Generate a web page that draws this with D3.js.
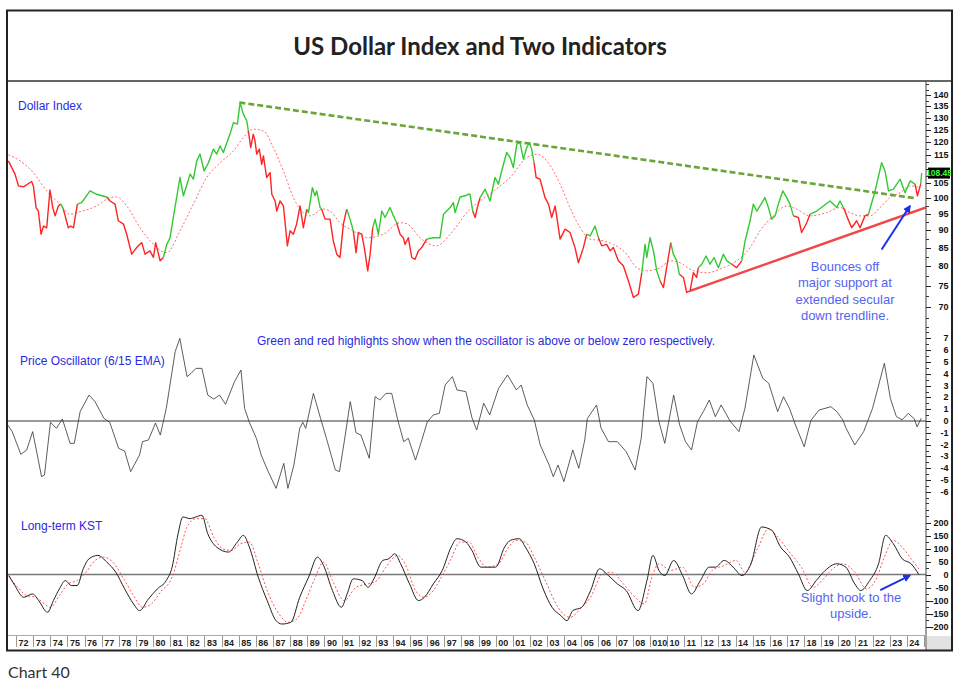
<!DOCTYPE html>
<html>
<head>
<meta charset="utf-8">
<script src="https://cdn.jsdelivr.net/npm/d3@7"></script>
<style>
body { margin: 0; background: #fff; }
svg { display: block; font-family: Arial, "Liberation Sans", sans-serif; }
</style>
</head>
<body>
<div id="chart"></div>
<script>
// Dollar index, [year, value]
var dollarIndex = [
[1971.55,112.9],[1971.94,108.1],[1972.14,104.0],[1972.43,103.7],[1972.91,105.5],[1973.01,104.0],[1973.17,96.9],[1973.30,95.8],[1973.46,88.8],[1973.60,91.2],[1973.79,90.7],[1973.98,102.6],[1974.14,96.9],[1974.28,94.3],[1974.47,97.4],[1974.61,98.0],[1974.76,96.4],[1975.05,90.7],[1975.19,91.2],[1975.35,90.7],[1975.58,98.0],[1975.83,98.5],[1976.32,102.3],[1976.71,101.2],[1977.29,100.3],[1977.49,99.0],[1977.78,98.0],[1977.97,92.8],[1978.27,91.8],[1978.46,88.8],[1978.75,83.2],[1979.04,85.0],[1979.34,86.4],[1979.53,83.2],[1979.82,84.1],[1980.02,82.3],[1980.15,86.4],[1980.41,81.4],[1980.60,82.3],[1980.80,85.9],[1980.99,87.8],[1981.18,93.8],[1981.57,106.9],[1981.77,100.7],[1982.16,108.1],[1982.35,106.3],[1982.55,112.9],[1982.74,115.4],[1982.98,109.2],[1983.23,112.2],[1983.52,117.3],[1983.71,115.4],[1983.91,118.5],[1984.10,116.0],[1984.49,123.2],[1984.69,127.9],[1984.92,127.3],[1985.08,136.6],[1985.27,131.5],[1985.47,128.6],[1985.56,124.5],[1985.70,117.9],[1985.85,123.2],[1985.95,120.5],[1986.05,115.4],[1986.20,117.3],[1986.34,111.6],[1986.44,114.7],[1986.63,106.9],[1986.83,108.6],[1986.93,101.2],[1987.12,99.0],[1987.22,95.8],[1987.41,99.0],[1987.61,97.4],[1987.84,85.5],[1988.00,89.8],[1988.19,88.8],[1988.38,91.8],[1988.58,97.4],[1988.77,90.7],[1988.97,96.4],[1989.07,95.3],[1989.30,103.4],[1989.45,100.7],[1989.55,102.3],[1989.75,96.9],[1989.84,96.4],[1990.04,93.3],[1990.33,93.3],[1990.52,86.9],[1990.72,83.2],[1990.91,82.3],[1991.11,91.8],[1991.30,96.4],[1991.50,93.3],[1991.69,89.8],[1991.85,83.6],[1991.98,89.3],[1992.18,88.8],[1992.33,85.0],[1992.53,78.8],[1992.67,83.2],[1992.82,90.7],[1992.96,93.3],[1993.15,88.8],[1993.35,95.8],[1993.54,93.8],[1993.83,96.9],[1994.03,94.3],[1994.22,92.2],[1994.42,88.8],[1994.61,87.8],[1994.71,85.9],[1994.90,87.8],[1995.10,82.3],[1995.29,81.8],[1995.49,84.1],[1995.68,85.0],[1995.97,87.4],[1996.36,87.8],[1996.75,87.8],[1996.95,94.8],[1997.14,95.8],[1997.34,96.9],[1997.53,98.5],[1997.63,95.3],[1997.92,100.3],[1998.21,100.7],[1998.41,101.2],[1998.50,101.2],[1998.66,95.8],[1998.80,93.8],[1998.93,96.9],[1999.09,100.1],[1999.38,102.9],[1999.67,99.0],[1999.96,106.9],[2000.16,104.6],[2000.35,109.2],[2000.64,116.0],[2000.84,114.1],[2001.03,110.4],[2001.23,119.2],[2001.42,119.8],[2001.62,113.5],[2001.81,117.9],[2001.97,119.8],[2002.10,117.3],[2002.24,112.2],[2002.36,106.9],[2002.59,106.3],[2002.88,100.1],[2003.08,98.0],[2003.27,93.8],[2003.47,97.4],[2003.76,87.4],[2004.05,90.3],[2004.34,89.3],[2004.63,85.0],[2004.83,80.9],[2005.12,85.0],[2005.31,88.8],[2005.51,88.3],[2005.80,91.2],[2006.00,87.8],[2006.19,85.5],[2006.48,85.9],[2006.68,84.1],[2006.87,85.0],[2007.16,81.4],[2007.45,80.1],[2007.75,76.2],[2008.04,72.2],[2008.33,73.0],[2008.53,78.3],[2008.72,85.9],[2008.82,82.3],[2009.01,87.8],[2009.21,84.1],[2009.40,78.8],[2009.60,76.2],[2009.79,74.6],[2009.98,79.6],[2010.22,86.4],[2010.37,83.2],[2010.57,81.4],[2010.72,77.9],[2010.96,77.1],[2011.15,73.4],[2011.35,73.8],[2011.54,78.3],[2011.73,77.1],[2011.83,79.6],[2012.03,80.5],[2012.28,82.7],[2012.51,80.5],[2012.75,82.3],[2013.00,79.6],[2013.29,83.2],[2013.49,81.4],[2013.78,80.5],[2014.07,79.6],[2014.36,81.4],[2014.56,86.9],[2014.85,92.8],[2015.04,98.0],[2015.24,95.8],[2015.43,97.4],[2015.72,100.1],[2015.92,96.9],[2016.11,93.3],[2016.31,94.3],[2016.50,98.0],[2016.76,102.3],[2016.99,100.1],[2017.18,98.0],[2017.38,94.3],[2017.67,93.8],[2017.86,89.3],[2018.16,92.2],[2018.35,94.8],[2018.74,95.8],[2019.13,97.4],[2019.52,99.0],[2019.91,96.9],[2020.10,99.0],[2020.30,96.9],[2020.49,94.3],[2020.78,90.7],[2021.07,92.8],[2021.27,90.7],[2021.56,94.3],[2021.76,94.8],[2022.15,102.3],[2022.53,112.2],[2022.73,109.2],[2022.93,102.3],[2023.22,102.9],[2023.61,106.3],[2023.90,101.7],[2024.19,105.7],[2024.48,104.6],[2024.62,100.7],[2024.81,104.6],[2024.87,108.45]
];
var lastClose = 108.45;

// Moving average (red dotted line on the price panel)
var movingAverage = [
[1971.55,115.1],[1972.23,112.9],[1973.01,108.6],[1973.79,102.3],[1974.57,98.0],[1975.15,94.8],[1975.74,95.6],[1976.71,97.4],[1977.49,100.1],[1977.88,100.3],[1978.46,97.4],[1979.24,90.7],[1980.02,85.9],[1980.80,83.6],[1981.57,89.8],[1982.35,98.0],[1983.13,106.9],[1983.91,112.2],[1984.69,116.6],[1985.27,121.8],[1985.85,125.2],[1986.44,124.5],[1987.02,117.9],[1987.61,109.2],[1988.19,100.1],[1988.58,96.4],[1989.16,94.3],[1989.94,96.4],[1990.33,95.8],[1990.91,92.2],[1991.69,89.8],[1992.47,87.8],[1993.44,88.8],[1994.42,92.2],[1994.81,91.9],[1995.58,87.8],[1996.17,85.9],[1996.56,85.5],[1997.34,88.8],[1998.50,96.4],[1999.09,99.0],[1999.87,102.3],[2000.84,106.9],[2001.81,114.1],[2002.39,115.4],[2002.98,112.9],[2003.76,104.6],[2004.34,96.9],[2004.93,90.7],[2005.51,87.4],[2006.29,86.9],[2006.87,85.9],[2007.65,83.2],[2008.23,79.6],[2008.82,78.8],[2009.60,79.6],[2010.18,81.4],[2010.76,80.9],[2011.54,78.8],[2012.32,78.3],[2013.29,79.6],[2014.07,81.4],[2014.85,85.0],[2015.43,89.8],[2016.21,94.3],[2016.99,97.4],[2017.57,96.4],[2018.35,94.3],[2019.32,95.3],[2020.10,96.9],[2020.68,95.3],[2021.27,94.3],[2021.85,94.3],[2022.44,96.9],[2023.02,100.1],[2023.61,101.7],[2024.19,104.0],[2024.77,103.4]
];

// Trend lines on the price panel
var resistanceLine = [[1985.04, 136.6], [2024.50, 99.9]];
var supportLine = [[2011.35, 73.8], [2025.12, 96.9]];

// Price oscillator (6/15 EMA)
var oscillator = [
[1971.51,-0.34],[1971.76,-0.85],[1972.28,-2.82],[1972.62,-2.46],[1972.97,-0.9],[1973.49,-4.72],[1973.66,-4.58],[1974.01,-0.11],[1974.36,-0.62],[1974.70,0.17],[1974.88,-0.62],[1975.15,-1.89],[1975.40,-1.89],[1975.74,0.79],[1976.26,2.2],[1976.61,1.64],[1977.13,0.23],[1977.47,-0.11],[1977.99,-2.32],[1978.34,-2.54],[1978.69,-4.29],[1979.21,-2.88],[1979.38,-1.75],[1979.73,-1.61],[1980.14,-0.17],[1980.42,-1.19],[1980.77,1.07],[1981.29,5.88],[1981.56,7.0],[1981.98,3.76],[1982.22,4.04],[1982.50,4.46],[1982.85,4.46],[1983.19,2.2],[1983.54,1.86],[1983.88,2.2],[1984.23,1.41],[1984.75,3.33],[1985.13,4.32],[1985.34,1.07],[1985.62,-0.11],[1986.03,-1.47],[1986.31,-2.88],[1986.72,-4.29],[1987.18,-5.71],[1987.63,-3.59],[1987.87,-5.71],[1988.22,-3.73],[1988.56,-0.62],[1988.74,-0.11],[1988.91,-0.62],[1989.36,2.34],[1989.78,0.2],[1990.12,-1.47],[1990.64,-4.15],[1990.88,-4.29],[1991.16,-1.75],[1991.51,1.64],[1991.85,-1.0],[1992.13,-1.19],[1992.62,-3.16],[1992.96,2.06],[1993.24,1.78],[1993.59,2.34],[1993.93,2.34],[1994.28,0.1],[1994.63,-1.75],[1994.90,-1.47],[1995.32,-3.31],[1995.66,-1.75],[1996.01,-0.06],[1996.36,0.51],[1996.71,0.65],[1997.05,3.05],[1997.47,3.76],[1997.74,2.63],[1998.26,2.49],[1998.61,0.3],[1998.89,-0.76],[1999.30,1.5],[1999.65,0.51],[2000.17,2.77],[2000.69,3.9],[2001.21,2.63],[2001.49,3.05],[2001.84,1.36],[2002.25,0.1],[2002.60,-2.03],[2003.12,-3.73],[2003.36,-4.72],[2003.64,-3.73],[2003.98,-5.14],[2004.50,-2.46],[2004.85,-4.01],[2005.20,-1.6],[2005.35,0.2],[2005.89,1.36],[2006.15,-0.6],[2006.58,-1.75],[2007.10,-1.75],[2007.62,-2.6],[2008.14,-4.15],[2008.49,-1.5],[2008.83,3.76],[2009.18,3.19],[2009.53,-0.06],[2009.87,-1.89],[2010.39,2.2],[2010.74,-0.34],[2011.08,-1.75],[2011.43,-2.46],[2011.78,-0.06],[2012.12,0.79],[2012.47,1.78],[2012.82,0.37],[2013.16,1.36],[2013.68,0.0],[2014.20,-0.9],[2014.55,1.07],[2015.07,5.59],[2015.59,3.62],[2015.94,3.19],[2016.46,0.79],[2016.80,2.06],[2017.15,1.07],[2017.50,-0.34],[2018.01,-2.18],[2018.40,0.05],[2018.88,0.93],[2019.57,1.21],[2019.92,0.79],[2020.26,0.1],[2020.45,-0.6],[2020.96,-2.03],[2021.48,-0.9],[2022.00,1.07],[2022.69,4.89],[2023.04,1.92],[2023.39,0.37],[2023.73,0.1],[2024.08,0.65],[2024.43,0.2],[2024.60,-0.5],[2024.84,0.23]
];

// Long-term KST and its signal line
var kst = [
[1971.58,-3.9],[1971.93,-42.5],[1972.45,-87.5],[1972.97,-74.6],[1973.32,-100.4],[1973.84,-145.4],[1974.18,-100.4],[1974.53,-55.3],[1974.88,-23.2],[1975.22,-42.5],[1975.57,-42.5],[1975.92,21.9],[1976.26,60.5],[1976.78,73.4],[1977.30,47.6],[1977.82,9.0],[1978.34,-55.3],[1978.86,-113.3],[1979.21,-139.0],[1979.73,-94.0],[1980.25,-55.3],[1980.77,-23.2],[1981.11,28.3],[1981.46,157.0],[1981.74,221.4],[1982.15,214.9],[1982.50,221.4],[1982.85,227.8],[1983.19,157.0],[1983.71,105.5],[1984.40,86.2],[1984.92,124.8],[1985.27,150.6],[1985.62,105.5],[1986.14,-10.3],[1986.66,-100.4],[1987.18,-177.6],[1987.52,-190.5],[1988.04,-184.0],[1988.56,-87.5],[1989.08,-10.3],[1989.60,66.9],[1989.95,34.7],[1990.47,-61.8],[1990.99,-126.1],[1991.33,-74.6],[1991.68,-16.7],[1992.20,-23.2],[1992.55,-48.9],[1992.89,-16.7],[1993.41,54.1],[1993.76,60.5],[1994.11,79.8],[1994.45,41.2],[1994.97,-36.0],[1995.49,-100.4],[1995.84,-87.5],[1996.36,-36.0],[1996.88,15.4],[1997.40,105.5],[1997.74,137.7],[1998.26,124.8],[1998.61,92.7],[1999.13,28.3],[1999.48,28.3],[2000.00,28.3],[2000.52,105.5],[2000.86,131.3],[2001.38,137.7],[2001.73,105.5],[2002.25,41.2],[2002.77,-55.3],[2003.29,-126.1],[2003.81,-158.3],[2004.16,-177.6],[2004.50,-139.0],[2005.02,-126.1],[2005.54,-61.8],[2006.06,21.9],[2006.58,-3.9],[2007.10,-36.0],[2007.62,-61.8],[2008.31,-139.0],[2008.83,-23.2],[2009.18,73.4],[2009.53,15.4],[2009.87,-3.9],[2010.39,54.1],[2010.91,-3.9],[2011.43,-74.6],[2011.95,-23.2],[2012.47,28.3],[2012.82,28.3],[2013.34,54.1],[2013.86,28.3],[2014.38,-3.9],[2014.90,41.2],[2015.52,182.8],[2016.11,169.9],[2016.63,105.5],[2017.15,66.9],[2017.67,2.6],[2018.19,-61.8],[2018.71,-23.2],[2019.23,15.4],[2019.92,41.2],[2020.44,28.3],[2020.96,-36.0],[2021.31,-61.8],[2021.83,-23.2],[2022.35,41.2],[2022.76,150.6],[2023.21,118.4],[2023.73,60.5],[2024.25,41.2],[2024.70,0]
];
var kstSignal = [
[1971.58,-7.7],[1972.10,-48.9],[1972.62,-81.1],[1973.14,-87.5],[1973.66,-113.3],[1974.01,-126.1],[1974.53,-81.1],[1975.05,-36.0],[1975.57,-23.2],[1976.09,9.0],[1976.61,54.1],[1977.13,66.9],[1977.65,47.6],[1978.34,-23.2],[1978.86,-81.1],[1979.38,-126.1],[1979.90,-113.3],[1980.42,-68.2],[1981.11,-10.3],[1981.63,105.5],[1981.98,182.8],[1982.50,214.9],[1983.02,214.9],[1983.54,144.1],[1984.06,99.1],[1984.58,92.7],[1985.10,118.4],[1985.62,124.8],[1986.14,41.2],[1986.66,-61.8],[1987.35,-151.9],[1987.87,-184.0],[1988.39,-171.2],[1988.91,-100.4],[1989.43,-16.7],[1989.95,47.6],[1990.47,-23.2],[1991.16,-100.4],[1991.85,-48.9],[1992.55,-36.0],[1993.07,-23.2],[1993.59,28.3],[1994.28,73.4],[1994.80,28.3],[1995.32,-61.8],[1995.84,-87.5],[1996.36,-61.8],[1996.88,-3.9],[1997.40,60.5],[1997.92,124.8],[1998.44,124.8],[1998.96,66.9],[1999.48,28.3],[2000.17,41.2],[2000.69,99.1],[2001.21,131.3],[2001.73,124.8],[2002.25,66.9],[2002.94,-29.6],[2003.64,-126.1],[2004.33,-164.7],[2005.02,-126.1],[2005.54,-87.5],[2006.23,2.6],[2006.75,9.0],[2007.45,-36.0],[2008.14,-87.5],[2008.66,-113.3],[2009.18,2.6],[2009.53,41.2],[2010.22,15.4],[2010.91,28.3],[2011.60,-48.9],[2012.12,-36.0],[2012.64,15.4],[2013.34,34.7],[2014.03,54.1],[2014.55,9.0],[2015.24,92.7],[2015.94,176.3],[2016.46,144.1],[2017.15,86.2],[2017.84,28.3],[2018.53,-48.9],[2019.05,-23.2],[2019.57,15.4],[2020.26,41.2],[2020.96,9.0],[2021.65,-55.3],[2022.17,-23.2],[2022.69,66.9],[2023.21,131.3],[2023.73,105.5],[2024.25,60.5],[2024.77,15.4]
];

// Axis labels
var yearLabels = ["72","73","74","75","76","77","78","79","80","81","82","83","84","85","86","87","88","89","90","91","92","93","94","95","96","97","98","99","00","01","02","03","04","05","06","07","08","010","10","11","12","13","14","15","16","17","18","19","20","21","22","23","24","25"];
var firstYear = 1972;
var priceTicks = [70, 75, 80, 85, 90, 95, 100, 105, 110, 115, 120, 125, 130, 135, 140];
var oscTicks = [-6, -5, -4, -3, -2, -1, 0, 1, 2, 3, 4, 5, 6, 7];
var kstTicks = [-200, -150, -100, -50, 0, 50, 100, 150, 200];

// Annotation arrows, in data units
var bounceArrow = [[2022.53, 84.5], [2024.18, 97.4]];
var hookArrow = [[2022.45, -60], [2024.17, -4]];

var width = 960, height = 695;
var left = 8, right = 926;

var x = d3.scaleLinear().domain([1971.53, 2025.12]).range([left, right]);
var yPrice = d3.scaleLog().domain([70, 140]).range([307, 95]);
var yOsc = d3.scaleLinear().domain([-6, 7]).range([491.8, 338.4]);
var yKst = d3.scaleLinear().domain([-200, 200]).range([626.5, 522.5]);

var svg = d3.select("#chart").append("svg")
    .attr("width", width)
    .attr("height", height);

var defs = svg.append("defs");
defs.append("clipPath").attr("id", "plotclip")
    .append("rect").attr("x", left).attr("y", 82).attr("width", right - left).attr("height", 552);
defs.append("clipPath").attr("id", "stripclip")
    .append("rect").attr("x", left).attr("y", 634).attr("width", right - left).attr("height", 17);
defs.append("marker")
    .attr("id", "arrow")
    .attr("viewBox", "0 0 10 10")
    .attr("refX", 8).attr("refY", 5)
    .attr("markerWidth", 4).attr("markerHeight", 4)
    .attr("orient", "auto")
    .append("path").attr("d", "M0,0 L10,5 L0,10 z").attr("fill", "#1f2fe6");

// Title
svg.append("text")
    .attr("x", 480).attr("y", 55)
    .attr("text-anchor", "middle")
    .style("font-family", "Lato, 'Open Sans', sans-serif")
    .style("font-weight", "700")
    .style("font-size", "24px")
    .attr("fill", "#222")
    .text("US Dollar Index and Two Indicators");

svg.append("line")
    .attr("x1", 7).attr("x2", 952).attr("y1", 81).attr("y2", 81)
    .attr("stroke", "#333").attr("stroke-width", 1.5);

var plot = svg.append("g").attr("clip-path", "url(#plotclip)");

// Price panel
var oscBisect = d3.bisector(function(d) { return d[0]; }).left;
function oscAt(t) {
    var i = oscBisect(oscillator, t);
    if (i <= 0) return oscillator[0][1];
    if (i >= oscillator.length) return oscillator[oscillator.length - 1][1];
    var a = oscillator[i - 1], b = oscillator[i];
    return a[1] + (b[1] - a[1]) * (t - a[0]) / (b[0] - a[0]);
}

var priceLine = d3.line()
    .x(function(d) { return x(d[0]); })
    .y(function(d) { return yPrice(d[1]); });

plot.append("path")
    .datum(movingAverage)
    .attr("d", priceLine.curve(d3.curveMonotoneX))
    .attr("fill", "none")
    .attr("stroke", "#ff6b6b")
    .attr("stroke-width", 1)
    .attr("stroke-dasharray", "2,2");
priceLine.curve(d3.curveLinear);

plot.append("path")
    .datum(resistanceLine)
    .attr("d", priceLine)
    .attr("stroke", "#6aa537")
    .attr("stroke-width", 2.6)
    .attr("stroke-dasharray", "6,3");

plot.append("path")
    .datum(supportLine)
    .attr("d", priceLine)
    .attr("stroke", "#f04848")
    .attr("stroke-width", 2.5);

// colour runs: green when the oscillator is above zero
var runs = [];
for (var i = 1; i < dollarIndex.length; i++) {
    var a = dollarIndex[i - 1], b = dollarIndex[i];
    var up = oscAt((a[0] + b[0]) / 2) > 0;
    var last = runs[runs.length - 1];
    if (last && last.up === up) last.pts.push(b);
    else runs.push({ up: up, pts: [a, b] });
}
plot.selectAll(".run")
    .data(runs)
    .enter().append("path")
    .attr("class", "run")
    .attr("d", function(d) { return priceLine(d.pts); })
    .attr("fill", "none")
    .attr("stroke", function(d) { return d.up ? "#33c933" : "#ff2323"; })
    .attr("stroke-width", 1.4)
    .attr("stroke-linejoin", "round");

// Oscillator panel
plot.append("line")
    .attr("x1", left).attr("x2", right)
    .attr("y1", yOsc(0)).attr("y2", yOsc(0))
    .attr("stroke", "#777").attr("stroke-width", 1.6);

plot.append("path")
    .datum(oscillator)
    .attr("d", d3.line()
        .x(function(d) { return x(d[0]); })
        .y(function(d) { return yOsc(d[1]); }))
    .attr("fill", "none")
    .attr("stroke", "#333")
    .attr("stroke-width", 0.8);

// KST panel
plot.append("line")
    .attr("x1", left).attr("x2", right)
    .attr("y1", yKst(0)).attr("y2", yKst(0))
    .attr("stroke", "#777").attr("stroke-width", 1.6);

var kstLine = d3.line()
    .curve(d3.curveMonotoneX)
    .x(function(d) { return x(d[0]); })
    .y(function(d) { return yKst(d[1]); });

plot.append("path")
    .datum(kstSignal)
    .attr("d", kstLine)
    .attr("fill", "none")
    .attr("stroke", "#ff5252")
    .attr("stroke-width", 1)
    .attr("stroke-dasharray", "2,2");

plot.append("path")
    .datum(kst)
    .attr("d", kstLine)
    .attr("fill", "none")
    .attr("stroke", "#222")
    .attr("stroke-width", 1);

// Panel labels
var labelBlue = "#2a2ae0", noteBlue = "#5265f0";
function label(tx, ty, str, color, size, anchor) {
    svg.append("text")
        .attr("x", tx).attr("y", ty)
        .attr("text-anchor", anchor || "start")
        .attr("fill", color)
        .style("font-size", size + "px")
        .text(str);
}
label(18, 110, "Dollar Index", labelBlue, 12);
label(20, 365, "Price Oscillator (6/15 EMA)", labelBlue, 12);
label(257, 345, "Green and red highlights show when the oscillator is above or below zero respectively.", labelBlue, 12);
label(21, 530, "Long-term KST", labelBlue, 12);

["Bounces off", "major support at", "extended secular", "down trendline."].forEach(function(s, k) {
    label(845, 271 + k * 16.4, s, noteBlue, 13, "middle");
});
["Slight hook to the", "upside."].forEach(function(s, k) {
    label(851, 602 + k * 16, s, noteBlue, 13, "middle");
});

svg.append("line")
    .attr("x1", x(bounceArrow[0][0])).attr("y1", yPrice(bounceArrow[0][1]))
    .attr("x2", x(bounceArrow[1][0])).attr("y2", yPrice(bounceArrow[1][1]))
    .attr("stroke", "#1f2fe6").attr("stroke-width", 2)
    .attr("marker-end", "url(#arrow)");
svg.append("line")
    .attr("x1", x(hookArrow[0][0])).attr("y1", yKst(hookArrow[0][1]))
    .attr("x2", x(hookArrow[1][0])).attr("y2", yKst(hookArrow[1][1]))
    .attr("stroke", "#1f2fe6").attr("stroke-width", 2)
    .attr("marker-end", "url(#arrow)");

// Right axis
var axisFont = "'Liberation Sans Narrow', 'Arial Narrow', Arial, sans-serif";
svg.append("line")
    .attr("x1", right).attr("x2", right).attr("y1", 81).attr("y2", 650)
    .attr("stroke", "#444").attr("stroke-width", 1);

function drawTicks(scale, ticks, minorStep, lo, hi, fmt, hide) {
    var minor = d3.range(ticks[0] - 4 * minorStep, ticks[ticks.length - 1] + 4 * minorStep + 1e-9, minorStep)
        .filter(function(v) { return v > 0 && scale(v) > lo && scale(v) < hi; });
    svg.selectAll(null).data(minor).enter().append("line")
        .attr("x1", right).attr("x2", right + 3)
        .attr("y1", function(d) { return Math.round(scale(d)) + 0.5; })
        .attr("y2", function(d) { return Math.round(scale(d)) + 0.5; })
        .attr("stroke", "#333").attr("stroke-width", 1);
    svg.selectAll(null).data(ticks).enter().append("line")
        .attr("x1", right).attr("x2", right + 5)
        .attr("y1", function(d) { return Math.round(scale(d)) + 0.5; })
        .attr("y2", function(d) { return Math.round(scale(d)) + 0.5; })
        .attr("stroke", "#222").attr("stroke-width", 1);
    svg.selectAll(null).data(ticks.filter(function(d) { return !(hide && hide(d)); }))
        .enter().append("text")
        .attr("x", 948.5)
        .attr("y", function(d) { return scale(d) + 3; })
        .attr("text-anchor", "end")
        .style("font-family", axisFont)
        .style("font-size", "9px")
        .style("font-weight", "bold")
        .attr("fill", "#111")
        .text(fmt);
}
// the last-value flag sits on top of the nearest price label
drawTicks(yPrice, priceTicks, 2.5, 82, 322, function(d) { return d; },
    function(d) { return Math.abs(yPrice(d) - yPrice(lastClose)) < 9; });
// oscillator and KST ticks can go negative, so shift them before filtering
drawTicks(function(v) { return yOsc(v - 10); }, oscTicks.map(function(v) { return v + 10; }), 0.5, 324, 500,
    function(d) { return d - 10; });
drawTicks(function(v) { return yKst(v - 1000); }, kstTicks.map(function(v) { return v + 1000; }), 25, 502, 633,
    function(d) { return d - 1000; });

// Last value flag
svg.append("rect")
    .attr("x", 928).attr("y", yPrice(lastClose) - 5.5)
    .attr("width", 22).attr("height", 11)
    .attr("fill", "#000");
svg.append("text")
    .attr("x", 939).attr("y", yPrice(lastClose) + 3)
    .attr("text-anchor", "middle")
    .style("font-family", axisFont)
    .style("font-size", "8.5px")
    .style("font-weight", "bold")
    .attr("fill", "#3dff3d")
    .text(lastClose.toFixed(2));

// Year strip
svg.append("line")
    .attr("x1", left).attr("x2", right).attr("y1", 635.5).attr("y2", 635.5)
    .attr("stroke", "#aaa");
svg.append("rect")
    .attr("x", right + 1).attr("y", 636).attr("width", 25).attr("height", 14)
    .attr("fill", "#e2e2e2");
var strip = svg.append("g").attr("clip-path", "url(#stripclip)");
strip.selectAll(".yt").data(yearLabels).enter().append("line")
    .attr("x1", function(d, i) { return Math.round(x(firstYear + i)) + 0.5; })
    .attr("x2", function(d, i) { return Math.round(x(firstYear + i)) + 0.5; })
    .attr("y1", 636).attr("y2", 647)
    .attr("stroke", "#999");
strip.selectAll(".yl").data(yearLabels).enter().append("text")
    .attr("x", function(d, i) { return x(firstYear + i) + 2.5; })
    .attr("y", 645.5)
    .style("font-family", axisFont)
    .style("font-size", "9px")
    .style("font-weight", "bold")
    .attr("fill", "#222")
    .text(function(d) { return d; });

// Outer frame
svg.append("rect")
    .attr("x", 7).attr("y", 10.5).attr("width", 945).attr("height", 640)
    .attr("fill", "none").attr("stroke", "#222").attr("stroke-width", 2);

svg.append("text")
    .attr("x", 8).attr("y", 678)
    .style("font-family", "Lato, 'Open Sans', sans-serif")
    .style("font-size", "16px")
    .attr("fill", "#333")
    .text("Chart 40");
</script>
</body>
</html>
